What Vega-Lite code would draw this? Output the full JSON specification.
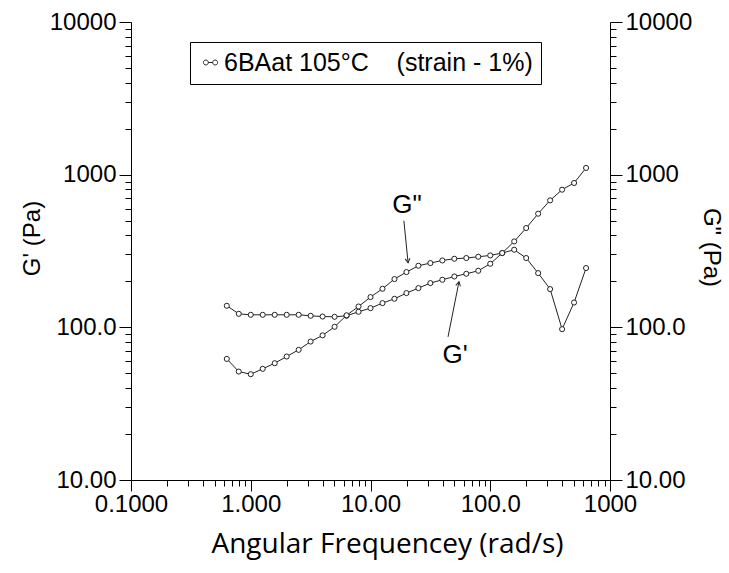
{
  "$schema": "https://vega.github.io/schema/vega-lite/v6.json",
  "width": 479,
  "height": 458,
  "autosize": "none",
  "padding": {"left": 131, "top": 22, "right": 119, "bottom": 93},
  "background": "white",
  "config": {
    "view": {"stroke": null},
    "axis": {"grid": false, "domainColor": "black", "tickColor": "black", "labelColor": "black", "titleColor": "black", "domainWidth": 1, "tickWidth": 1},
    "legend": {"orient": "none", "legendX": 59, "legendY": 20}
  },
  "datasets": {
    "moduli": [
      {"w": 0.631, "Gp": 138.4, "Gpp": 62.1},
      {"w": 0.794, "Gp": 122.6, "Gpp": 51.3},
      {"w": 1.0, "Gp": 120.8, "Gpp": 49.3},
      {"w": 1.259, "Gp": 120.8, "Gpp": 53.5},
      {"w": 1.585, "Gp": 120.8, "Gpp": 58.2},
      {"w": 1.995, "Gp": 120.8, "Gpp": 64.4},
      {"w": 2.512, "Gp": 120.8, "Gpp": 71.2},
      {"w": 3.162, "Gp": 119.0, "Gpp": 80.7},
      {"w": 3.981, "Gp": 117.7, "Gpp": 88.6},
      {"w": 5.012, "Gp": 117.2, "Gpp": 100.8},
      {"w": 6.31, "Gp": 119.0, "Gpp": 119.9},
      {"w": 7.943, "Gp": 126.4, "Gpp": 136.9},
      {"w": 10.0, "Gp": 133.6, "Gpp": 157.8},
      {"w": 12.59, "Gp": 144.1, "Gpp": 178.9},
      {"w": 15.85, "Gp": 153.8, "Gpp": 207.1},
      {"w": 19.95, "Gp": 167.6, "Gpp": 230.1},
      {"w": 25.12, "Gp": 180.7, "Gpp": 253.2},
      {"w": 31.62, "Gp": 194.9, "Gpp": 263.6},
      {"w": 39.81, "Gp": 204.9, "Gpp": 274.2},
      {"w": 50.12, "Gp": 215.3, "Gpp": 281.3},
      {"w": 63.1, "Gp": 224.3, "Gpp": 284.4},
      {"w": 79.43, "Gp": 234.7, "Gpp": 290.0},
      {"w": 100.0, "Gp": 260.9, "Gpp": 295.8},
      {"w": 125.9, "Gp": 306.6, "Gpp": 306.6},
      {"w": 158.5, "Gp": 365.3, "Gpp": 322.3},
      {"w": 199.5, "Gp": 447.1, "Gpp": 284.4},
      {"w": 251.2, "Gp": 555.0, "Gpp": 226.6},
      {"w": 316.2, "Gp": 678.6, "Gpp": 178.0},
      {"w": 398.1, "Gp": 797.3, "Gpp": 97.3},
      {"w": 501.2, "Gp": 882.1, "Gpp": 145.4},
      {"w": 631.0, "Gp": 1106.5, "Gpp": 244.5}
    ],
    "labels": [
      {"text": "G\"", "w": 20.2, "mod": 636},
      {"text": "G'", "w": 50.8, "mod": 66}
    ],
    "arrows": [
      {"arrow": "Gpp", "seq": 1, "w": 19.0, "mod": 499},
      {"arrow": "Gpp", "seq": 2, "w": 20.6, "mod": 265},
      {"arrow": "Gp", "seq": 1, "w": 44.4, "mod": 86.6},
      {"arrow": "Gp", "seq": 2, "w": 54.8, "mod": 199}
    ]
  },
  "layer": [
    {
      "encoding": {
        "x": {
          "field": "w", "type": "quantitative",
          "title": "Angular Frequencey (rad/s)",
          "scale": {"type": "log", "domain": [0.1, 1000], "nice": false},
          "axis": {
            "titleFont": "Open Sans", "titleFontSize": 28, "titleFontWeight": "normal",
            "titleX": 256, "titleY": 64, "titleBaseline": "middle", "titleAlign": "center",
            "values": [0.1, 0.2, 0.3, 0.4, 0.5, 0.6, 0.7, 0.8, 0.9, 1, 2, 3, 4, 5, 6, 7, 8, 9, 10, 20, 30, 40, 50, 60, 70, 80, 90, 100, 200, 300, 400, 500, 600, 700, 800, 900, 1000],
            "labelExpr": "indexof([0.1,1,10,100,1000], datum.value) >= 0 ? format(datum.value, '.4r') : ''",
            "labelFont": "Liberation Sans", "labelFontSize": 24,
            "labelFlush": false, "labelOverlap": false, "labelPadding": 1,
            "tickSize": {"condition": {"test": "indexof([0.1,1,10,100,1000], datum.value) >= 0", "value": 11}, "value": 6}
          }
        },
        "y": {
          "field": "Gp", "type": "quantitative",
          "title": "G' (Pa)",
          "scale": {"type": "log", "domain": [10, 10000], "nice": false},
          "axis": {
            "titleFont": "Liberation Sans", "titleFontSize": 24, "titleFontWeight": "normal",
            "titleAngle": 270, "titleX": -99, "titleY": 216, "titleBaseline": "middle", "titleAlign": "center",
            "values": [10, 20, 30, 40, 50, 60, 70, 80, 90, 100, 200, 300, 400, 500, 600, 700, 800, 900, 1000, 2000, 3000, 4000, 5000, 6000, 7000, 8000, 9000, 10000],
            "labelExpr": "indexof([10,100,1000,10000], datum.value) >= 0 ? format(datum.value, '.4r') : ''",
            "labelFont": "Liberation Sans", "labelFontSize": 24,
            "labelFlush": false, "labelOverlap": false, "labelPadding": 3,
            "tickSize": {"condition": {"test": "indexof([10,100,1000,10000], datum.value) >= 0", "value": 12}, "value": 6}
          }
        }
      },
      "layer": [
        {
          "data": {"name": "moduli"},
          "mark": {"type": "line", "color": "#222222", "strokeWidth": 1}
        },
        {
          "data": {"name": "moduli"},
          "mark": {"type": "point", "shape": "circle", "size": 26, "filled": false, "fill": "white", "fillOpacity": 1, "strokeWidth": 1, "opacity": 1},
          "encoding": {
            "stroke": {
              "datum": "6BAat 105°C\u00a0\u00a0\u00a0\u00a0(strain - 1%)\u00a0",
              "scale": {"range": ["#222222"]},
              "legend": {
                "title": null,
                "strokeColor": "black", "fillColor": "white", "padding": 8,
                "labelFont": "Liberation Sans", "labelFontSize": 25, "labelColor": "black", "labelLimit": 600, "labelOffset": 1,
                "symbolType": "M -0.95 0 A 0.33 0.33 0 1 0 -0.29 0 A 0.33 0.33 0 1 0 -0.95 0 Z M -0.29 0 L 0.29 0 M 0.29 0 A 0.33 0.33 0 1 0 0.95 0 A 0.33 0.33 0 1 0 0.29 0 Z",
                "symbolSize": 225, "symbolStrokeWidth": 1, "symbolFillColor": "white", "symbolStrokeColor": "#222222", "symbolOpacity": 1
              }
            }
          }
        },
        {
          "data": {"name": "labels"},
          "mark": {"type": "text", "font": "Liberation Sans", "fontSize": 26, "color": "black", "align": "center", "baseline": "middle"},
          "encoding": {
            "x": {"field": "w", "type": "quantitative", "title": "Angular Frequencey (rad/s)", "scale": {"type": "log", "domain": [0.1, 1000], "nice": false}},
            "y": {"field": "mod", "type": "quantitative", "title": "G' (Pa)", "scale": {"type": "log", "domain": [10, 10000], "nice": false}},
            "text": {"field": "text"}
          }
        },
        {
          "data": {"name": "arrows"},
          "mark": {"type": "line", "color": "#222222", "strokeWidth": 1},
          "encoding": {
            "x": {"field": "w", "type": "quantitative", "title": "Angular Frequencey (rad/s)", "scale": {"type": "log", "domain": [0.1, 1000], "nice": false}},
            "y": {"field": "mod", "type": "quantitative", "title": "G' (Pa)", "scale": {"type": "log", "domain": [10, 10000], "nice": false}},
            "detail": {"field": "arrow"},
            "order": {"field": "seq"}
          }
        },
        {
          "data": {"name": "arrows"},
          "transform": [{"filter": "datum.arrow == 'Gpp' && datum.seq == 2"}],
          "mark": {"type": "point", "shape": "M -0.8 -1.4 L 0 0 L 0.8 -1.4", "size": 36, "filled": false, "stroke": "#222222", "strokeWidth": 1, "angle": -8, "opacity": 1},
          "encoding": {
            "x": {"field": "w", "type": "quantitative", "title": "Angular Frequencey (rad/s)", "scale": {"type": "log", "domain": [0.1, 1000], "nice": false}},
            "y": {"field": "mod", "type": "quantitative", "title": "G' (Pa)", "scale": {"type": "log", "domain": [10, 10000], "nice": false}}
          }
        },
        {
          "data": {"name": "arrows"},
          "transform": [{"filter": "datum.arrow == 'Gp' && datum.seq == 2"}],
          "mark": {"type": "point", "shape": "M -0.8 -1.4 L 0 0 L 0.8 -1.4", "size": 36, "filled": false, "stroke": "#222222", "strokeWidth": 1, "angle": 192, "opacity": 1},
          "encoding": {
            "x": {"field": "w", "type": "quantitative", "title": "Angular Frequencey (rad/s)", "scale": {"type": "log", "domain": [0.1, 1000], "nice": false}},
            "y": {"field": "mod", "type": "quantitative", "title": "G' (Pa)", "scale": {"type": "log", "domain": [10, 10000], "nice": false}}
          }
        }
      ]
    },
    {
      "data": {"name": "moduli"},
      "encoding": {
        "x": {"field": "w", "type": "quantitative", "title": "Angular Frequencey (rad/s)", "scale": {"type": "log", "domain": [0.1, 1000], "nice": false}},
        "y": {
          "field": "Gpp", "type": "quantitative",
          "title": "G\" (Pa)",
          "scale": {"type": "log", "domain": [10, 10000], "nice": false},
          "axis": {
            "orient": "right",
            "titleFont": "Liberation Sans", "titleFontSize": 24, "titleFontWeight": "normal",
            "titleAngle": 90, "titleX": 100, "titleY": 225, "titleBaseline": "middle", "titleAlign": "center",
            "values": [10, 20, 30, 40, 50, 60, 70, 80, 90, 100, 200, 300, 400, 500, 600, 700, 800, 900, 1000, 2000, 3000, 4000, 5000, 6000, 7000, 8000, 9000, 10000],
            "labelExpr": "indexof([10,100,1000,10000], datum.value) >= 0 ? format(datum.value, '.4r') : ''",
            "labelFont": "Liberation Sans", "labelFontSize": 24,
            "labelFlush": false, "labelOverlap": false, "labelPadding": 3,
            "tickSize": {"condition": {"test": "indexof([10,100,1000,10000], datum.value) >= 0", "value": 12}, "value": 6}
          }
        }
      },
      "layer": [
        {"mark": {"type": "line", "color": "#222222", "strokeWidth": 1}},
        {"mark": {"type": "point", "shape": "circle", "size": 26, "filled": false, "fill": "white", "fillOpacity": 1, "stroke": "#222222", "strokeWidth": 1, "opacity": 1}}
      ]
    }
  ],
  "resolve": {"scale": {"y": "independent"}}
}
